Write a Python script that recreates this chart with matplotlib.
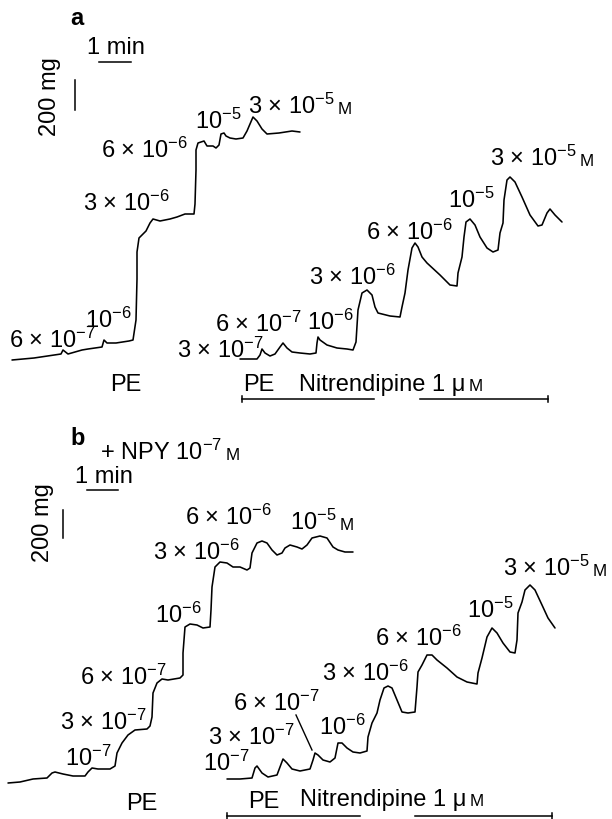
import matplotlib
matplotlib.use("Agg")
import matplotlib.pyplot as plt

plt.rcParams['font.family'] = ['Liberation Sans', 'DejaVu Sans']
plt.rcParams['mathtext.fontset'] = 'custom'
plt.rcParams['mathtext.rm'] = 'Liberation Sans'
plt.rcParams['mathtext.it'] = 'Liberation Sans:italic'
plt.rcParams['mathtext.bf'] = 'Liberation Sans:bold'
plt.rcParams['mathtext.sf'] = 'Liberation Sans'
plt.rcParams['mathtext.default'] = 'rm'

# ---------------- data: tension traces (time, tension in page units) ----------------
a_pe_t = [12, 34, 61, 63, 68, 82, 88, 102, 104, 107, 116, 129, 133, 136, 137, 137, 139, 146, 150, 153,
          160, 170, 177, 185, 194, 195, 196, 196, 198, 204, 207, 213, 216, 219, 221, 224, 226, 230, 236, 243,
          247, 253, 257, 262, 267, 279, 292, 300]
a_pe_f = [360, 358, 354, 350, 354, 350, 349, 347, 340, 343, 343, 341, 340, 320, 279, 252, 238, 231, 223, 219,
          221, 219, 217, 214, 214, 204, 170, 150, 143, 141, 146, 146, 148, 145, 134, 133, 136, 138, 139, 138,
          131, 117, 121, 129, 134, 133, 131, 132]

a_nit_t = [240, 257, 260, 262, 265, 270, 275, 280, 283, 287, 292, 300, 310, 316, 317, 318, 320, 327, 337, 347,
           353, 356, 358, 362, 367, 372, 375, 378, 390, 400, 402, 405, 408, 412, 415, 418, 422, 427, 440, 450,
           457, 458, 462, 464, 466, 470, 475, 480, 487, 493, 498, 500, 503, 504, 507, 510, 515, 522, 530, 538,
           542, 547, 550, 555, 562]
a_nit_f = [359, 359, 355, 349, 353, 356, 354, 347, 343, 348, 352, 353, 354, 353, 343, 337, 340, 345, 348, 349,
           350, 342, 310, 293, 290, 295, 307, 313, 316, 317, 307, 293, 270, 248, 243, 247, 257, 263, 275, 285,
           286, 273, 257, 237, 222, 219, 225, 237, 248, 252, 250, 233, 223, 200, 180, 177, 182, 197, 215, 226,
           225, 213, 209, 215, 222]

b_pe_t = [8, 20, 33, 47, 52, 55, 63, 73, 85, 88, 92, 98, 110, 115, 117, 122, 128, 135, 147, 150,
          152, 153, 157, 162, 168, 180, 183, 183, 185, 190, 197, 203, 210, 211, 212, 215, 220, 227, 233, 240,
          247, 250, 252, 257, 262, 267, 272, 277, 282, 285, 290, 297, 302, 307, 312, 320, 327, 333, 338, 345, 353]
b_pe_f = [783, 782, 779, 778, 773, 772, 774, 776, 776, 772, 768, 769, 769, 766, 753, 743, 735, 730, 729, 726,
          717, 693, 683, 679, 680, 678, 675, 653, 627, 624, 625, 628, 627, 610, 587, 567, 562, 563, 567, 567,
          570, 568, 553, 543, 541, 543, 550, 555, 553, 548, 545, 547, 549, 545, 538, 536, 538, 547, 550, 552, 552]

b_nit_t = [227, 240, 252, 255, 257, 262, 268, 277, 280, 283, 287, 292, 300, 310, 313, 315, 318, 323, 330, 335,
           338, 342, 347, 353, 360, 367, 368, 372, 377, 380, 384, 388, 392, 397, 402, 408, 415, 417, 418, 422,
           427, 432, 437, 447, 457, 467, 477, 478, 482, 487, 492, 497, 503, 510, 515, 517, 518, 522, 525, 530,
           535, 542, 548, 555]
b_nit_f = [779, 779, 778, 768, 766, 773, 777, 775, 767, 759, 763, 769, 771, 769, 760, 753, 755, 760, 762, 758,
           743, 743, 748, 752, 753, 751, 737, 723, 713, 700, 688, 686, 688, 700, 712, 713, 712, 687, 672, 665,
           655, 655, 660, 668, 677, 682, 684, 673, 658, 637, 628, 633, 643, 652, 653, 640, 613, 602, 590, 585,
           590, 605, 618, 628]

# ---------------- labels ----------------
a_labels = [("6 × 10$^{-7}$", 9, 340), ("10$^{-6}$", 85, 320), ("3 × 10$^{-6}$", 83, 203),
            ("6 × 10$^{-6}$", 101, 150), ("10$^{-5}$", 195, 121),
            ("3 × 10$^{-7}$", 177, 350), ("6 × 10$^{-7}$", 215, 324), ("10$^{-6}$", 307, 322),
            ("3 × 10$^{-6}$", 309, 277), ("6 × 10$^{-6}$", 366, 232), ("10$^{-5}$", 448, 200)]
a_molar = [("3 × 10$^{-5}$", 248, 106), ("3 × 10$^{-5}$", 490, 158)]
b_labels = [("6 × 10$^{-6}$", 185, 517), ("3 × 10$^{-6}$", 153, 552), ("10$^{-6}$", 155, 615),
            ("6 × 10$^{-7}$", 80, 677), ("3 × 10$^{-7}$", 60, 722), ("10$^{-7}$", 65, 758),
            ("6 × 10$^{-7}$", 233, 703), ("3 × 10$^{-7}$", 208, 737), ("10$^{-7}$", 203, 763),
            ("10$^{-6}$", 319, 727), ("3 × 10$^{-6}$", 322, 673), ("6 × 10$^{-6}$", 375, 638),
            ("10$^{-5}$", 467, 610)]
b_molar = [("10$^{-5}$", 290, 522), ("3 × 10$^{-5}$", 503, 568), ("+ NPY 10$^{-7}$", 100, 452)]

plain_labels = [("PE", 110, 383), ("PE", 243, 383), ("PE", 126, 802), ("PE", 248, 800),
                ("1 min", 87, 46), ("1 min", 75, 475)]
nit_labels = [("Nitrendipine 1 μ", 299, 383), ("Nitrendipine 1 μ", 300, 798)]
panel_letters = [("a", 70, 17), ("b", 70, 437)]
force_labels = [("200 mg", 50, 97), ("200 mg", 43, 523)]

# bars: (x0, x1, y, tick side)
drug_bars = [(242, 374, 399, "left"), (420, 548, 399, "right"),
             (227, 360, 816, "left"), (415, 552, 816, "right")]
time_bars = [(99, 131, 62), (87, 118, 490)]
force_bars = [(75, 80, 110), (63, 510, 538)]
pointer = ([296, 312], [715, 750])

FS = 17
fig = plt.figure(figsize=(6.12, 8.19), dpi=100)
ax = fig.add_axes([0, 0, 1, 1])
ax.set_xlim(0, 612)
ax.set_ylim(819, 0)
ax.axis("off")

lw = 1.15
for t, f in [(a_pe_t, a_pe_f), (a_nit_t, a_nit_f), (b_pe_t, b_pe_f), (b_nit_t, b_nit_f)]:
    ax.plot(t, f, color="black", lw=lw, solid_joinstyle="round", solid_capstyle="round")

ax.plot(pointer[0], pointer[1], color="black", lw=1.0)

for x0, x1, y, side in drug_bars:
    ax.plot([x0, x1], [y, y], color="black", lw=1.1)
    xt = x0 if side == "left" else x1
    ax.plot([xt, xt], [y - 3, y + 3], color="black", lw=1.1)
for x0, x1, y in time_bars:
    ax.plot([x0, x1], [y, y], color="black", lw=1.1)
for x, y0, y1 in force_bars:
    ax.plot([x, x], [y0, y1], color="black", lw=1.1)

OFF = 8
for s, x, y in a_labels + b_labels + plain_labels:
    ax.text(x, y + OFF, s, fontsize=FS, ha="left", va="baseline")

def molar(s, x, y):
    t = ax.text(x, y + OFF, s, fontsize=FS, ha="left", va="baseline")
    ax.annotate("M", xy=(1, y + OFF), xycoords=(t, "data"), xytext=(2.5, 0),
                textcoords="offset points", fontsize=FS * 0.72, ha="left", va="baseline")

for s, x, y in a_molar + b_molar + nit_labels:
    molar(s, x, y)

for s, x, y in panel_letters:
    ax.text(x, y + OFF, s, fontsize=FS, fontweight="bold", ha="left", va="baseline")
for s, x, y in force_labels:
    ax.text(x, y, s, fontsize=FS, rotation=90, ha="center", va="center")

fig.savefig("out.png", dpi=100)
